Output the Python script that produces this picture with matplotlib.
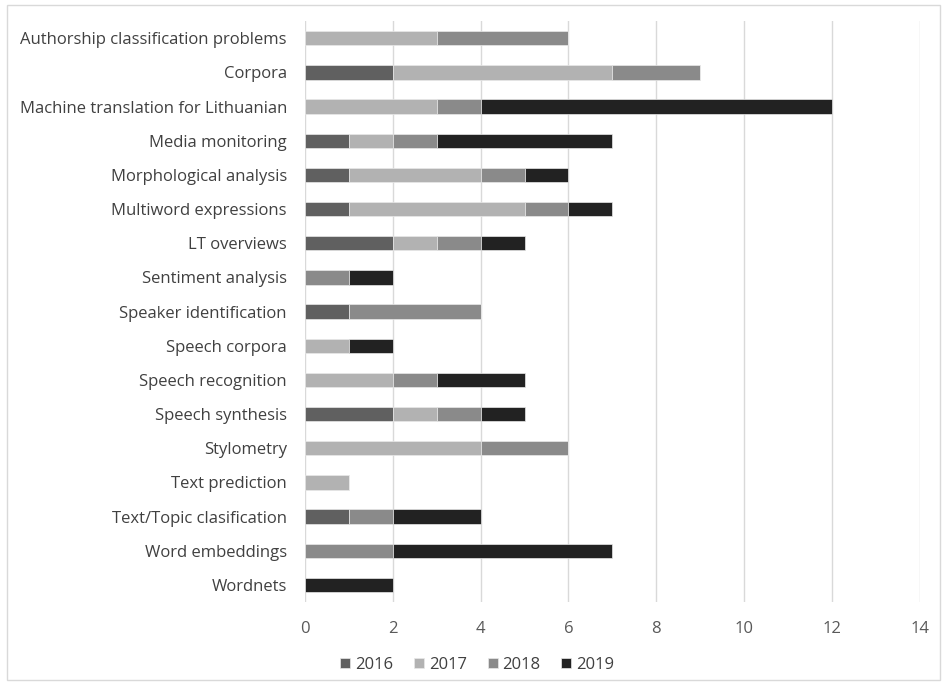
import matplotlib.pyplot as plt
from matplotlib.patches import Rectangle

plt.rcParams['font.family'] = ['Open Sans', 'DejaVu Sans']

topics = [
    "Authorship classification problems",
    "Corpora",
    "Machine translation for Lithuanian",
    "Media monitoring",
    "Morphological analysis",
    "Multiword expressions",
    "LT overviews",
    "Sentiment analysis",
    "Speaker identification",
    "Speech corpora",
    "Speech recognition",
    "Speech synthesis",
    "Stylometry",
    "Text prediction",
    "Text/Topic clasification",
    "Word embeddings",
    "Wordnets",
]
years = ["2016", "2017", "2018", "2019"]
counts_2016 = [0, 2, 0, 1, 1, 1, 2, 0, 1, 0, 0, 2, 0, 0, 1, 0, 0]
counts_2017 = [3, 5, 3, 1, 3, 4, 1, 0, 0, 1, 2, 1, 4, 1, 0, 0, 0]
counts_2018 = [3, 2, 1, 1, 1, 1, 1, 1, 3, 0, 1, 1, 2, 0, 1, 2, 0]
counts_2019 = [0, 0, 8, 4, 1, 1, 1, 1, 0, 1, 2, 1, 0, 0, 2, 5, 2]
colors = ["#606060", "#b2b2b2", "#8a8a8a", "#222222"]

fig = plt.figure(figsize=(9.43, 6.85), dpi=100)
ax = fig.add_axes([0.3234, 0.1212, 0.652, 0.848])

# light frame round the whole chart
fig.patches.append(Rectangle((0.007, 0.007), 0.990, 0.985, transform=fig.transFigure,
                             fill=False, edgecolor="#d9d9d9", linewidth=1))

ypos = list(range(len(topics)))
left = [0] * len(topics)
for year, vals, col in zip(years, [counts_2016, counts_2017, counts_2018, counts_2019], colors):
    ax.barh(ypos, vals, left=left, height=0.42, color=col, edgecolor="#e8e8e8",
            linewidth=0.5, label=year, zorder=3)
    left = [a + b for a, b in zip(left, vals)]

ax.set_xlim(0, 14)
ax.set_ylim(len(topics) - 0.5, -0.5)
ax.set_xticks(range(0, 15, 2))
ax.set_yticks(ypos)
ax.set_yticklabels(topics)
ax.grid(axis="x", color="#d9d9d9", linewidth=1, zorder=0)
for s in ax.spines.values():
    s.set_visible(False)
ax.tick_params(axis="both", length=0, labelsize=12, colors="#404040")
ax.tick_params(axis="x", pad=14, colors="#595959")
ax.tick_params(axis="y", pad=13)

ax.legend(loc="center", bbox_to_anchor=(0.28, -0.108), ncol=4, frameon=False,
          fontsize=12, handlelength=0.6, handleheight=0.6, handletextpad=0.3,
          columnspacing=1.25, labelcolor="#404040")

fig.savefig("out.png", dpi=100)
